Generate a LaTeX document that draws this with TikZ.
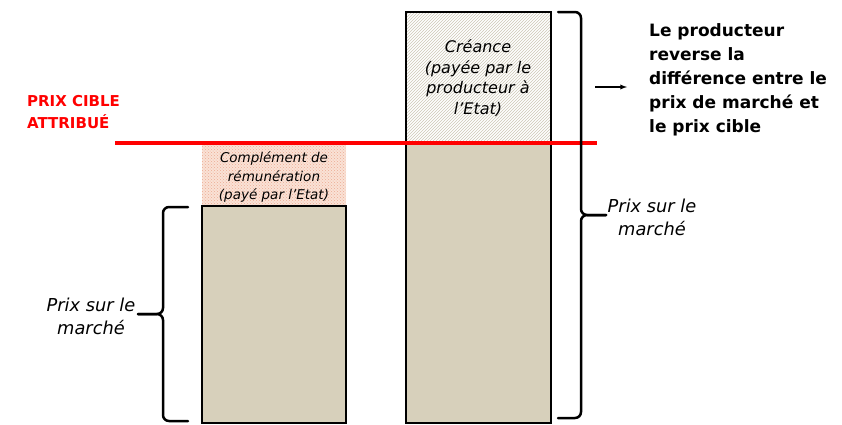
\documentclass[tikz,border=0pt]{standalone}
\usepackage{fontspec}
\setmainfont{DejaVu Sans}
\usetikzlibrary{%
  arrows,%
  calc,%
  patterns%
}
\definecolor{beige}{RGB}{215,208,187}
\definecolor{peach}{RGB}{250,226,214}
\definecolor{salmon}{RGB}{236,172,148}
\definecolor{hatch}{RGB}{205,199,182}
\tikzset{
  bar/.style={draw=black,line width=1.5pt,fill=beige},
  bracket/.style={line width=2.5pt,rounded corners=6pt,line cap=round},
  label/.style={inner sep=0pt,align=center,font=\itshape\fontsize{17.8}{23}\selectfont}
}

\begin{document}
\begin{tikzpicture}[x=1pt,y=-1pt]
      \useasboundingbox (0,0) rectangle (842,424);
      % left bar
      \fill[peach] (202,145) rectangle (346,206);
      \fill[pattern=crosshatch dots,pattern color=salmon] (202,145) rectangle (346,206);
      \draw[bar] (202,206) rectangle (346,423);
      \node[label,font=\itshape\fontsize{13.5}{18.5}\selectfont] (compl) at (274,177)
      {Complément de\\rémunération\\(payé par l'Etat)};
      % right bar
      \fill[white] (406,12) rectangle (551,143);
      \fill[pattern=north east lines,pattern color=hatch] (406,12) rectangle (551,143);
      \draw[bar] (406,143) rectangle (551,423);
      \draw[line width=1.5pt] (406,143) -- (406,12) -- (551,12) -- (551,143);
      \node[label,font=\itshape\fontsize{16}{20.5}\selectfont] (creance) at (478,78)
      {Créance\\(payée par le\\producteur à\\l’Etat)};
      % target price
      \draw[red,line width=3.5pt] (115,143) -- (597,143);
      \node[inner sep=0pt,anchor=north west,align=left,text=red,
      font=\bfseries\fontsize{15}{22}\selectfont] (cible) at (27,95)
      {PRIX CIBLE\\ATTRIBUÉ};
      % braces
      \draw[bracket] (188,207) -- (163,207) -- (163,314) -- (138,314);
      \draw[bracket] (138,314) -- (163,314) -- (163,421) -- (188,421);
      \node[label] (pleft) at (91,316) {Prix sur le\\marché};
      \draw[bracket] (558,12) -- (581,12) -- (581,215) -- (606,215);
      \draw[bracket] (606,215) -- (581,215) -- (581,418) -- (558,418);
      \node[label] (pright) at (652,217) {Prix sur le\\marché};
      % explanation
      \node[inner sep=0pt,anchor=north west,align=left,
      font=\bfseries\fontsize{17}{24.2}\selectfont] (expl) at (649,23)
      {Le producteur\\reverse la\\différence entre le\\prix de marché et\\le prix cible};
      \coordinate (arrs) at (595,87);
      \coordinate (arre) at (627,87);
      \draw[line width=1.3pt,-latex] (arrs) -- (arre);
\end{tikzpicture}
\end{document}
